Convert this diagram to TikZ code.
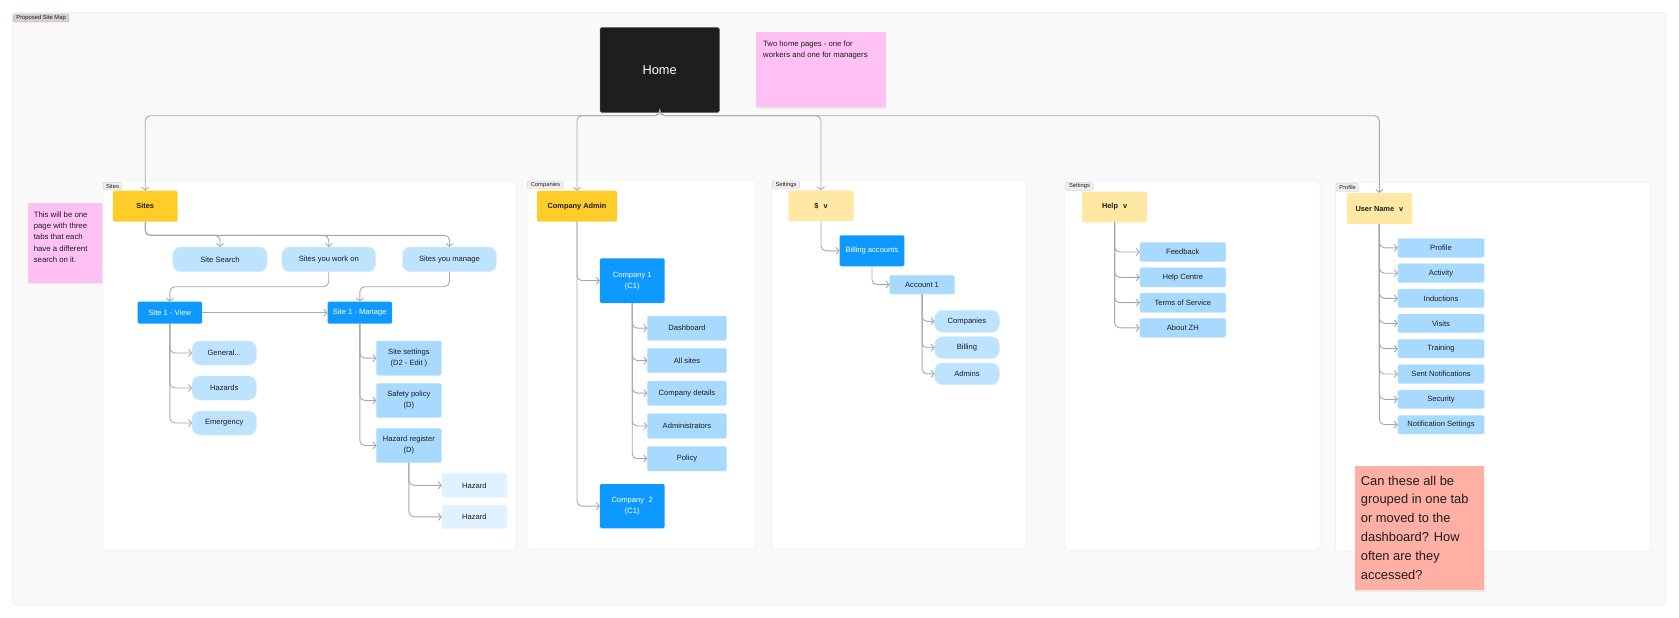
\documentclass[tikz,border=0pt]{standalone}
\usepackage{fontspec}
\setmainfont{Liberation Sans}
\usetikzlibrary{arrows.meta,shadows}
\definecolor{cbg}{HTML}{F9F9F9}
\definecolor{couter}{HTML}{EBEBEB}
\definecolor{cfrb}{HTML}{ECECEC}
\definecolor{ctagp}{HTML}{D9D0D0}
\definecolor{ctagpb}{HTML}{B8AEAE}
\definecolor{ctag}{HTML}{EEEEEE}
\definecolor{ctagb}{HTML}{D6D6D6}
\definecolor{cyel}{HTML}{FFCD29}
\definecolor{clyel}{HTML}{FFE8A3}
\definecolor{cblue}{HTML}{0D99FF}
\definecolor{clb}{HTML}{A8DAFF}
\definecolor{cpill}{HTML}{BDE3FF}
\definecolor{cvlb}{HTML}{E0F2FF}
\definecolor{cpink}{HTML}{FFC0F3}
\definecolor{csalmon}{HTML}{FFAFA3}
\definecolor{chome}{HTML}{1E1E1E}
\definecolor{cline}{HTML}{A8A8A8}
\definecolor{ctext}{HTML}{1E1E1E}
\newcommand\mkbox[7]{\node[#2, minimum width={(#5-#3)*1pt}, minimum height={(#6-#4)*1pt}] (#1) at ({(#3+#5)/2},{(#4+#6)/2}) {#7};}
\tikzset{
  x=1pt, y=-1pt,
  boxbase/.style={inner sep=0pt, outer sep=0pt, align=center, text=ctext, font=\fontsize{7.6}{11}\selectfont},
  yelbox/.style={boxbase, fill=cyel, rounded corners=1.5pt, font=\fontsize{7.4}{9}\selectfont\bfseries},
  lyelbox/.style={boxbase, fill=clyel, rounded corners=1.5pt, font=\fontsize{7.4}{9}\selectfont\bfseries},
  bluebox/.style={boxbase, fill=cblue, rounded corners=1.5pt, text=white},
  lbbox/.style={boxbase, fill=clb, draw=clb!70!white, line width=0.4pt, rounded corners=1.5pt},
  pillbox/.style={boxbase, fill=cpill, draw=cpill!70!white, line width=0.4pt, rounded corners=8pt},
  vlbbox/.style={boxbase, fill=cvlb, rounded corners=1.5pt},
  homebox/.style={boxbase, fill=chome, draw=black!70, line width=0.5pt, rounded corners=1.5pt, text=white, font=\fontsize{12.8}{14}\selectfont},
  tagbox/.style={boxbase, fill=ctag, draw=ctagb, line width=0.4pt, rounded corners=1.5pt, font=\fontsize{5.8}{7}\selectfont},
  ptagbox/.style={tagbox, fill=ctagp, draw=ctagpb},
  framebox/.style={fill=white, draw=cfrb, line width=0.5pt, rounded corners=3pt},
  notebox/.style={drop shadow={opacity=0.12, shadow xshift=0.5pt, shadow yshift=-1.5pt}},
  notetext/.style={inner sep=0pt, anchor=north west, align=left, text=ctext},
  conn/.style={draw=cline, line width=0.9pt, rounded corners=5pt, -{Straight Barb[length=3pt,width=7pt]}}
}
\begin{document}
\begin{tikzpicture}
\useasboundingbox (0,0) rectangle (1679,618);
\fill[white] (0,0) rectangle (1679,618);
% outer frame
\path[fill=cbg, draw=couter, line width=0.5pt, rounded corners=3pt] (12.5,12.7) rectangle (1666,605);
\mkbox{tagmap}{ptagbox}{13.2}{14}{69}{22}{Proposed Site Map}
% section frames
\path[framebox] (103,181) rectangle (516.4,550);
\path[framebox] (527,180) rectangle (755.5,549);
\path[framebox] (771.7,180) rectangle (1026.5,549);
\path[framebox] (1065,181) rectangle (1320,550);
\path[framebox] (1335.4,182.3) rectangle (1650.8,551);
\mkbox{tsites}{tagbox}{103.2}{182.3}{121.8}{190}{Sites}
\mkbox{tcomp}{tagbox}{527.6}{181}{563.4}{188.7}{Companies}
\mkbox{tset}{tagbox}{772.4}{181}{799.6}{189}{Settings}
\mkbox{thelp}{tagbox}{1065.7}{182.3}{1093.4}{190.3}{Settings}
\mkbox{tprof}{tagbox}{1336.2}{183.3}{1359}{191.7}{Profile}
% sticky notes
\path[notebox, fill=cpink] (756.2,32.3) rectangle (885.7,107.3);
\node[notetext, font=\fontsize{7.7}{11.4}\selectfont] (note1) at (763,40.8) {Two home pages - one for\\workers and one for managers};
\path[notebox, fill=cpink] (27.5,202.7) rectangle (102.1,282.7);
\node[notetext, font=\fontsize{7.8}{11.3}\selectfont] (note2) at (33.6,211.4) {This will be one\\page with three\\tabs that each\\have a different\\search on it.};
\path[notebox, fill=csalmon] (1354.6,465.7) rectangle (1484.2,590);
\node[notetext, font=\fontsize{12.9}{18.8}\selectfont] (note3) at (1360.7,475.5) {Can these all be\\grouped in one tab\\or moved to the\\dashboard? How\\often are they\\accessed?};
% home
\mkbox{home}{homebox}{600}{27.7}{719.4}{112.3}{Home}
% sites column
\mkbox{sites}{yelbox}{112.9}{190.7}{177.5}{221.7}{Sites}
\mkbox{ss}{pillbox}{172.9}{247}{267.1}{271.7}{Site Search}
\mkbox{swo}{pillbox}{281.8}{247}{375.7}{271.7}{Sites you work on}
\mkbox{sym}{pillbox}{402.5}{247}{496.4}{271.7}{Sites you manage}
\mkbox{sv}{bluebox}{137.5}{301.7}{202.1}{323.7}{Site 1 - View}
\mkbox{sm}{bluebox}{327.5}{301.7}{392.1}{323.7}{Site 1 - Manage}
\mkbox{gen}{pillbox}{192.1}{341}{256.4}{365}{General...}
\mkbox{haz}{pillbox}{192.1}{376}{256.4}{400}{Hazards}
\mkbox{emg}{pillbox}{192.1}{411}{256.4}{435}{Emergency}
\mkbox{sset}{lbbox}{376.4}{341}{441.4}{375.3}{Site settings\\(D2 - Edit )}
\mkbox{sp}{lbbox}{376.4}{383.3}{441.4}{417.7}{Safety policy\\(D)}
\mkbox{hr}{lbbox}{376.4}{428.3}{441.4}{462.7}{Hazard register\\(D)}
\mkbox{hza}{vlbbox}{441.8}{473.3}{506.8}{497.3}{Hazard}
\mkbox{hzb}{vlbbox}{441.8}{505}{506.8}{528.7}{Hazard}
% companies column
\mkbox{ca}{yelbox}{536.9}{190.7}{617.1}{221.7}{Company Admin}
\mkbox{ca1}{bluebox}{599.9}{258.3}{664.6}{303}{Company 1\\(C1)}
\mkbox{ca2}{bluebox}{599.9}{484}{664.6}{528.3}{Company\hspace{4.5pt}2\\(C1)}
\mkbox{dash}{lbbox}{647.4}{316}{726.6}{340.3}{Dashboard}
\mkbox{alls}{lbbox}{647.4}{348.3}{726.6}{372.7}{All sites}
\mkbox{cdet}{lbbox}{647.4}{381}{726.6}{405.3}{Company details}
\mkbox{adm}{lbbox}{647.4}{413.7}{726.6}{438.3}{Administrators}
\mkbox{pol}{lbbox}{647.4}{446.3}{726.6}{471}{Policy}
% settings ($) column
\mkbox{dol}{lyelbox}{788.3}{190.3}{853.7}{221}{\$\hspace{5pt}v}
\mkbox{bill}{bluebox}{839.6}{235.3}{904.3}{266.3}{Billing accounts}
\mkbox{acc}{lbbox}{889.5}{275.3}{954.6}{294}{Account 1}
\mkbox{pcomp}{pillbox}{934.6}{310.3}{999.3}{332.3}{Companies}
\mkbox{pbill}{pillbox}{934.6}{336.7}{999.3}{358.7}{Billing}
\mkbox{padm}{pillbox}{934.6}{363}{999.3}{384.7}{Admins}
% help column
\mkbox{help}{lyelbox}{1082}{191.7}{1147.2}{222.3}{Help\hspace{5pt}v}
\mkbox{fb}{lbbox}{1139.8}{242.3}{1225.8}{261.7}{Feedback}
\mkbox{hc}{lbbox}{1139.8}{267.7}{1225.8}{287}{Help Centre}
\mkbox{tos}{lbbox}{1139.8}{293}{1225.8}{312.3}{Terms of Service}
\mkbox{about}{lbbox}{1139.8}{318.3}{1225.8}{337.3}{About ZH}
% profile column
\mkbox{un}{lyelbox}{1346.8}{193}{1412}{224}{User Name\hspace{5pt}v}
\mkbox{prof}{lbbox}{1397.8}{238.3}{1484.2}{257.3}{Profile}
\mkbox{act}{lbbox}{1397.8}{263.7}{1484.2}{282.7}{Activity}
\mkbox{ind}{lbbox}{1397.8}{289}{1484.2}{307.7}{Inductions}
\mkbox{vis}{lbbox}{1397.8}{314}{1484.2}{332.7}{Visits}
\mkbox{trn}{lbbox}{1397.8}{339.3}{1484.2}{358}{Training}
\mkbox{sn}{lbbox}{1397.8}{364.7}{1484.2}{383.3}{Sent Notifications}
\mkbox{sec}{lbbox}{1397.8}{390}{1484.2}{408.7}{Security}
\mkbox{ns}{lbbox}{1397.8}{415.3}{1484.2}{434}{Notification Settings}
% connectors from home
\draw[conn] (home.south) -- (home.south |- 0,115.7) -| (sites.north);
\draw[conn] (home.south) -- (home.south |- 0,115.7) -| (ca.north);
\draw[conn] (home.south) -- (home.south |- 0,115.7) -| (dol.north);
\draw[conn] (home.south) -- (home.south |- 0,115.7) -| (un.north);
% sites connectors
\draw[conn] (sites.south) -- (sites.south |- 0,235.3) -| (ss.north);
\draw[conn] (sites.south) -- (sites.south |- 0,235.3) -| (swo.north);
\draw[conn] (sites.south) -- (sites.south |- 0,235.3) -| (sym.north);
\draw[conn] (swo.south) -- (swo.south |- 0,286.7) -| (sv.north);
\draw[conn] (sym.south) -- (sym.south |- 0,286.7) -| (sm.north);
\draw[conn] (sv.east) -- (sm.west);
\foreach \t in {gen,haz,emg} \draw[conn] (sv.south) |- (\t.west);
\foreach \t in {sset,sp,hr} \draw[conn] (sm.south) |- (\t.west);
\foreach \t in {hza,hzb} \draw[conn] (hr.south) |- (\t.west);
% companies connectors
\foreach \t in {ca1,ca2} \draw[conn] (ca.south) |- (\t.west);
\foreach \t in {dash,alls,cdet,adm,pol} \draw[conn] (ca1.south) |- (\t.west);
% settings connectors
\draw[conn] (dol.south) |- (bill.west);
\draw[conn] (bill.south) |- (acc.west);
\foreach \t in {pcomp,pbill,padm} \draw[conn] (acc.south) |- (\t.west);
% help connectors
\foreach \t in {fb,hc,tos,about} \draw[conn] (help.south) |- (\t.west);
% profile connectors
\foreach \t in {prof,act,ind,vis,trn,sn,sec,ns} \draw[conn] (un.south) |- (\t.west);
\end{tikzpicture}
\end{document}
